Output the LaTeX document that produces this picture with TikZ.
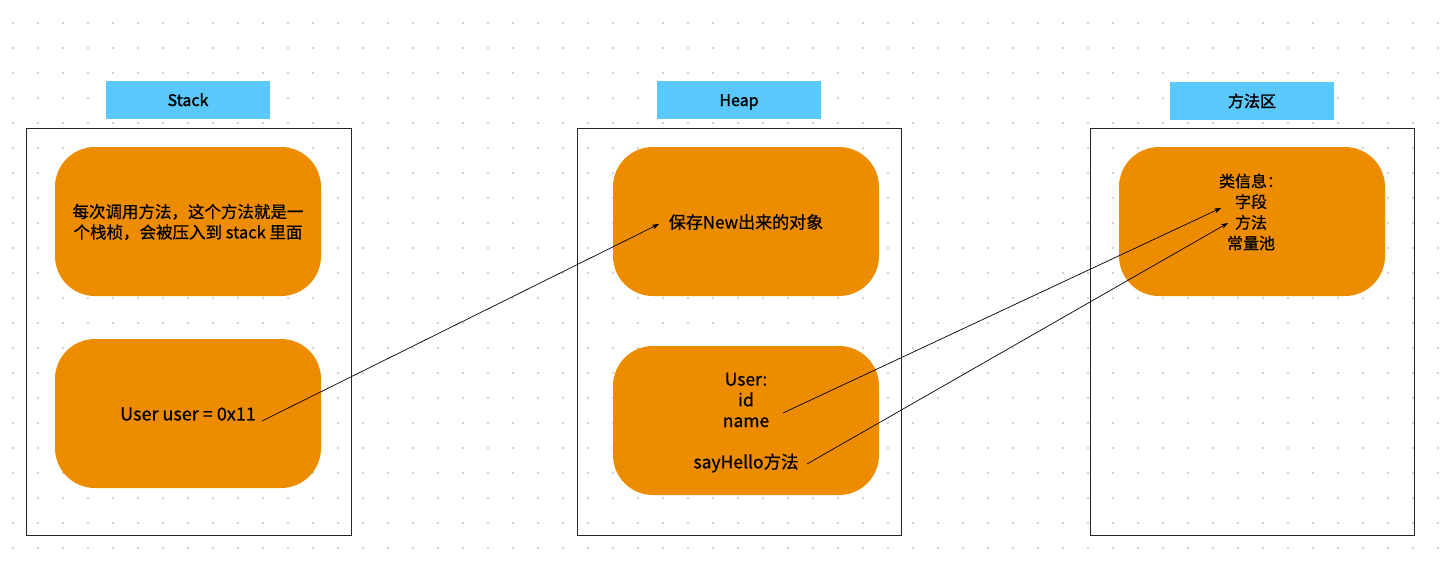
\documentclass[tikz,border=0pt]{standalone}
\usepackage{fontspec}
\setmainfont{Noto Sans CJK SC}[FakeBold=0.6]
\newfontfamily\lblfont{Noto Sans CJK SC}[FakeBold=1.6]
\usetikzlibrary{arrows.meta}
\definecolor{dotgray}{HTML}{C4C4C4}
\definecolor{lblblue}{HTML}{5AC8FA}
\definecolor{boxorange}{HTML}{EE8C00}
\tikzset{
  region/.style={draw=black!85, line width=0.9pt},
  lbl/.style={fill=lblblue, minimum width=164pt, minimum height=38pt, inner sep=0pt, font=\fontsize{16}{19}\lblfont},
  blob/.style={fill=boxorange, rounded corners=40pt, minimum width=266pt, minimum height=149pt, inner sep=0pt},
  txt/.style={font=\fontsize{16.5}{20.5}\selectfont, align=center, inner sep=0pt, text=black},
  conn/.style={-{Stealth[length=7pt,width=5pt]}, line width=0.7pt}
}
\begin{document}
\begin{tikzpicture}[x=1pt,y=-1pt]
\useasboundingbox (0,0) rectangle (1440,574);
\fill[white] (0,0) rectangle (1440,574);
\foreach \i in {0,...,57}{\foreach \j in {0,...,21}{\fill[dotgray] (13+25*\i,23+25*\j) circle (1.1pt);}}
% regions
\draw[region] (26,128) rectangle (351,535);
\draw[region] (577,128) rectangle (901,535);
\draw[region] (1090,128) rectangle (1414,535);
% labels
\node[lbl, text depth=0pt, text height=12pt] (lstack) at (188,100) {Stack};
\node[lbl, text depth=0pt, text height=12pt] (lheap) at (739,100) {Heap};
\node[lbl] (lmeth) at (1252,101) {方法区};
% orange blobs
\node[blob] (s1) at (188,221.5) {};
\node[blob] (s2) at (188,413.5) {};
\node[blob] (h1) at (746,221.5) {};
\node[blob] (h2) at (746,420.5) {};
\node[blob] (m1) at (1252,221.5) {};
% texts
\node[txt] (t1) at (188,222) {每次调用方法，这个方法就是一\\个栈桢，会被压入到 stack 里面};
\node[txt, font=\fontsize{18}{20}\selectfont] (t2) at (188,414) {User user = 0x11};
\node[txt, font=\fontsize{17}{20}\selectfont] (t3) at (746,222) {保存New出来的对象};
\node[txt, font=\fontsize{17.5}{20.7}\selectfont] (t4) at (746,400) {User:\\id\\name};
\node[txt, font=\fontsize{17.5}{20}\selectfont] (t5) at (746,463) {sayHello方法};
\node[txt, font=\fontsize{16}{20.7}\selectfont] (t6) at (1251,212) {类信息：\\字段\\方法\\常量池};
% connector anchors
\coordinate (a1s) at (262,421);
\coordinate (a1e) at (659,224);
\coordinate (a2s) at (783,413);
\coordinate (a2e) at (1221,208);
\coordinate (a3s) at (807,464);
\coordinate (a3e) at (1228,223);
\draw[conn] (a1s) -- (a1e);
\draw[conn] (a2s) -- (a2e);
\draw[conn] (a3s) -- (a3e);
\end{tikzpicture}
\end{document}
